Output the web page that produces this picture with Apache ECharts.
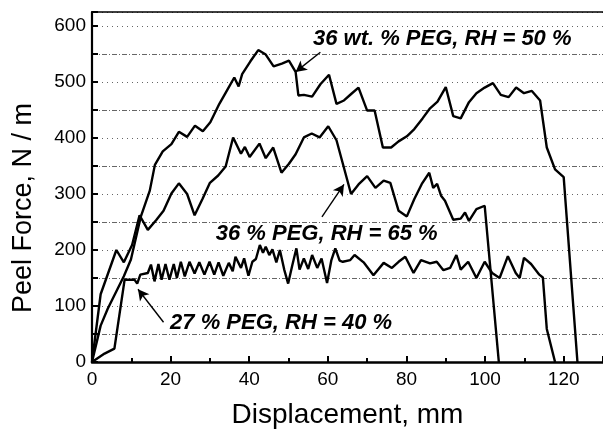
<!DOCTYPE html>
<html>
<head>
<meta charset="utf-8">
<script src="https://cdn.jsdelivr.net/npm/echarts@6/dist/echarts.min.js"></script>
<style>
  html, body { margin: 0; padding: 0; background: #fff; }
  #chart { width: 603px; height: 434px; }
</style>
</head>
<body>
<div id="chart"></div>
<script>
// Peel force traces: [displacement (mm), force (N/m)]
const peg36rh50 = [
  [0,0],[2.2,65],[4,95],[8.1,153],[9.9,183],[12.4,259],[14.7,306],[16,352],[18,376],
  [20.2,389],[22.1,411],[24.2,402],[26.2,422],[28.2,412],[30.1,428],[32.4,461],[34.1,482],
  [36.2,508],[37.3,492],[38.2,514],[40.3,537],[42.3,557],[44.2,549],[46.2,528],[48.3,533],
  [50.1,538],[51.8,518],[52.5,476],[53.9,477],[56,474],[58.1,496],[60.3,513],[62.2,461],
  [64.1,467],[66,479],[67.8,490],[70,449],[71.9,449],[74,383],[76.1,383],[78,394],
  [80.1,403],[82,416],[84.1,435],[86,453],[87.9,465],[90,491],[91.9,439],[93.8,435],
  [95.9,464],[97.8,480],[99.9,490],[102,498],[104,477],[106,473],[107.9,490],[109.9,480],
  [111.9,484],[114,467],[115.7,383],[117.8,344],[120,330],[123.5,0]
];
const peg36rh65 = [
  [0,0],[2.2,121],[6.2,200],[8.1,178],[10.2,209],[12.1,262],[14.2,236],[16.3,253],
  [18.2,270],[20.2,301],[22.1,319],[24.2,300],[26.1,262],[28.1,291],[30,320],[32.1,333],
  [34,349],[35.9,401],[37.9,372],[38.9,384],[40.1,366],[42.6,390],[44.2,364],[46.1,383],
  [48.2,338],[50.1,354],[51.8,371],[53.9,401],[55.9,408],[57.9,401],[60.1,421],[62.2,396],
  [65.9,300],[67.8,317],[70,332],[72.1,311],[74.2,324],[75.9,320],[78,270],[80.1,260],
  [82,291],[83.9,318],[85.8,338],[86.8,311],[87.8,318],[88.8,297],[89.8,288],[91.9,254],
  [93.8,256],[94.9,267],[95.9,252],[97.8,273],[99.9,279],[103.5,0]
];
const peg27rh40 = [
  [0,0],[3.2,15],[5.7,24],[8.3,147],[10.8,147],[11.5,140],[12.3,156],[14.2,159],[15,174],
  [15.9,144],[16.9,175],[17.7,147],[18.7,175],[19.7,147],[20.8,175],[21.6,150],[22.6,179],
  [23.6,153],[24.8,179],[26.1,158],[27.3,178],[28.6,156],[29.9,179],[31.1,156],[32.2,178],
  [33.4,154],[34.8,177],[35.8,162],[36.5,188],[37.9,168],[38.7,185],[39.8,154],[40.8,179],
  [41.7,184],[42.7,209],[43.5,195],[44.2,206],[45.1,191],[45.9,201],[46.9,178],[47.8,200],
  [48.9,165],[49.9,140],[50.9,171],[52,203],[52.8,165],[53.9,185],[55,166],[56,191],
  [57.3,168],[58.4,185],[59.8,141],[60.9,182],[61.9,203],[63,181],[63.8,179],[65.7,182],
  [66.8,191],[69.1,178],[71.6,155],[74.2,177],[76.3,168],[78,179],[79.7,188],[81.8,159],
  [83.7,182],[86,176],[87.7,179],[89.4,164],[91.1,168],[92.7,191],[93.8,165],[95.7,179],
  [97.8,150],[99.9,179],[101.8,159],[103.7,150],[105.8,189],[107.8,159],[108.8,150],
  [109.9,186],[111.7,175],[113.8,156],[114.7,151],[115.7,59],[117.8,0]
];

// Curve labels (text, anchor in data units) and their pointer arrows (tail -> head)
const labelTexts = ['36 wt. % PEG, RH = 50 %', '36 % PEG, RH = 65 %', '27 % PEG, RH = 40 %'];
const labelAnchors = [[89.1, 577], [59.7, 229], [48.1, 70]];
const arrowTails = [[58.1, 553], [58.5, 259], [18.2, 71]];
const arrowHeads = [[51.8, 518], [64.1, 317], [11.7, 130]];

const FONT = '"Liberation Sans", Arial, sans-serif';
const chart = echarts.init(document.getElementById('chart'), null, { renderer: 'canvas' });

const traceStyle = { color: '#000', width: 2.4 };
function trace(data) {
  return {
    type: 'line', data: data, showSymbol: false, symbol: 'none',
    lineStyle: traceStyle, itemStyle: { color: '#000' }, silent: true, z: 3
  };
}

chart.setOption({
  animation: false,
  backgroundColor: '#fff',
  grid: { left: 92, right: -2.5, top: 12, bottom: 67, containLabel: false },
  xAxis: [{
    type: 'value', min: 0, max: 130, interval: 20,
    name: 'Displacement, mm', nameLocation: 'middle', nameGap: 39,
    nameTextStyle: { fontFamily: FONT, fontSize: 28, color: '#000' },
    axisLine: { show: true, onZero: false, lineStyle: { color: '#000', width: 2.5 } },
    axisTick: { show: true, inside: true, length: 6, lineStyle: { color: '#000', width: 2 } },
    minorTick: { show: true, splitNumber: 2, length: 4, lineStyle: { color: '#000', width: 2 } },
    axisLabel: { fontFamily: FONT, fontSize: 19, color: '#000', margin: 8, showMaxLabel: false },
    splitLine: { show: false }
  }, {
    type: 'value', min: 0, max: 130, position: 'top',
    axisLine: { show: true, onZero: false, lineStyle: { color: '#000', width: 1.5 } },
    axisTick: { show: false }, axisLabel: { show: false }, splitLine: { show: false }
  }],
  yAxis: {
    type: 'value', min: 0, max: 625, interval: 100,
    axisLine: { show: true, onZero: false, lineStyle: { color: '#000', width: 2.2 } },
    axisTick: { show: true, inside: true, length: 6, lineStyle: { color: '#000', width: 2 } },
    minorTick: { show: true, splitNumber: 2, length: 6, lineStyle: { color: '#000', width: 2 } },
    axisLabel: { fontFamily: FONT, fontSize: 19, color: '#000', margin: 6, showMaxLabel: false },
    splitLine: { show: true, lineStyle: { color: '#666', width: 1, type: [1, 4] } },
    minorSplitLine: { show: true, lineStyle: { color: '#666', width: 1, type: [5, 2, 1, 2] } }
  },
  series: [
    trace(peg36rh50),
    trace(peg36rh65),
    trace(peg27rh40),
    {
      type: 'line', data: [], silent: true, z: 4,
      markLine: {
        silent: true, animation: false,
        symbol: ['none', 'arrow'], symbolSize: [9, 11],
        label: { show: false },
        lineStyle: { color: '#000', width: 1.4, type: 'solid' },
        emphasis: { disabled: true },
        data: arrowTails.map((t, i) => [{ coord: t }, { coord: arrowHeads[i] }])
      }
    }
  ]
});

// Place curve labels and the vertical axis title
const gfx = labelTexts.map((txt, i) => {
  const p = chart.convertToPixel({ xAxisIndex: 0, yAxisIndex: 0 }, labelAnchors[i]);
  return {
    type: 'text', x: p[0], y: p[1], z: 10, silent: true,
    style: {
      text: txt, fill: '#000', align: 'center', verticalAlign: 'middle',
      font: 'italic bold 22px ' + FONT
    }
  };
});
gfx.push({
  type: 'text', x: 24, y: 208, rotation: Math.PI / 2, silent: true,
  style: {
    text: 'Peel Force, N / m', fill: '#000', align: 'center', verticalAlign: 'middle',
    font: '27px ' + FONT
  }
});
chart.setOption({ graphic: gfx });
</script>
</body>
</html>
